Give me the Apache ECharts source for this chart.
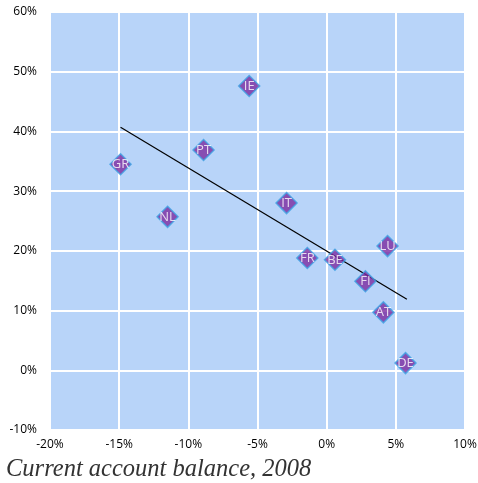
<!DOCTYPE html>
<html>
<head>
<meta charset="utf-8">
<script src="https://cdn.jsdelivr.net/npm/echarts@6/dist/echarts.min.js"></script>
<style>html,body{margin:0;padding:0;background:#fff}#c{width:478px;height:483px}</style>
</head>
<body>
<div id="c"></div>
<script>
var countries = ['IE','PT','GR','NL','IT','FR','BE','FI','LU','AT','DE'];
var currentAccount = [-5.6, -8.9, -14.9, -11.5, -2.9, -1.4, 0.6, 2.8, 4.4, 4.1, 5.7];
var otherValue = [47.6, 36.9, 34.5, 25.7, 28.0, 18.8, 18.5, 14.9, 20.8, 9.7, 1.2];
var trendX = [-14.9, 5.8];
var trendY = [40.7, 11.9];
var xTicks = [-20, -15, -10, -5, 0, 5, 10];
var yTicks = [-10, 0, 10, 20, 30, 40, 50, 60];

var chart = echarts.init(document.getElementById('c'));
var pts = countries.map(function (c, i) { return { name: c, value: [currentAccount[i], otherValue[i]] }; });
var trend = trendX.map(function (x, i) { return [x, trendY[i]]; });
var labelFont = { fontFamily: 'Open Sans', fontSize: 12, color: '#000' };
chart.setOption({
  animation: false,
  title: {
    text: 'Current account balance, 2008',
    left: 1, top: 452,
    textStyle: { fontFamily: 'Liberation Serif', fontStyle: 'italic', fontWeight: 'normal', fontSize: 24.5, color: '#333' }
  },
  grid: { left: 50, right: 13, top: 12, bottom: 53, show: true, backgroundColor: '#b8d4f9', borderWidth: 0, outerBoundsMode: 'none', containLabel: false },
  xAxis: {
    type: 'value', min: xTicks[0], max: xTicks[xTicks.length - 1], interval: 5,
    axisLine: { show: false }, axisTick: { show: false },
    splitLine: { lineStyle: { color: '#ffffff', width: 2 } },
    axisLabel: Object.assign({ formatter: '{value}%', margin: 9 }, labelFont)
  },
  yAxis: {
    type: 'value', min: yTicks[0], max: yTicks[yTicks.length - 1], interval: 10,
    axisLine: { show: false }, axisTick: { show: false },
    splitLine: { lineStyle: { color: '#ffffff', width: 2 } },
    axisLabel: Object.assign({ formatter: '{value}%', margin: 13 }, labelFont)
  },
  series: [
    {
      type: 'line', data: trend, symbol: 'none', silent: true,
      lineStyle: { color: '#000', width: 1.2 }, z: 2
    },
    {
      type: 'scatter', data: pts, symbol: 'diamond', symbolSize: 21, z: 3,
      itemStyle: { color: '#7b2aa0', borderColor: '#3fa3e3', borderWidth: 1.5 },
      label: {
        show: true, position: 'inside', formatter: '{b}',
        color: '#fff', fontFamily: 'Open Sans', fontSize: 13
      }
    }
  ]
});
</script>
</body>
</html>
